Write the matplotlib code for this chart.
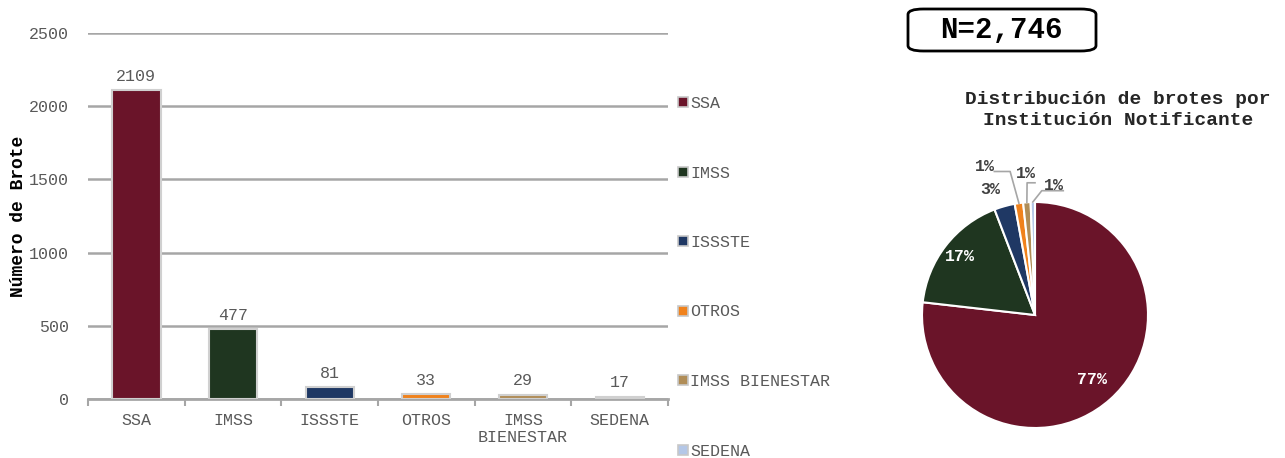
import numpy as np
import matplotlib.pyplot as plt
from matplotlib.lines import Line2D
from matplotlib.patches import FancyBboxPatch

plt.rcParams['font.family'] = ['Liberation Mono', 'DejaVu Sans Mono']

institutions = ['SSA', 'IMSS', 'ISSSTE', 'OTROS', 'IMSS BIENESTAR', 'SEDENA']
tick_labels = ['SSA', 'IMSS', 'ISSSTE', 'OTROS', 'IMSS\nBIENESTAR', 'SEDENA']
outbreaks = [2109, 477, 81, 33, 29, 17]
colors = ['#6A1429', '#1F3620', '#1F3864', '#F0821C', '#B08D57', '#B4C7E7']
total_label = 'N=2,746'

W, H = 1285, 458
fig = plt.figure(figsize=(W / 100, H / 100), dpi=100)

def px_axes(x0, y0, x1, y1):
    # pixel box (top-left origin) -> figure axes
    return fig.add_axes([x0 / W, 1 - y1 / H, (x1 - x0) / W, (y1 - y0) / H])

grey = '#595959'

# ---- bar chart ----
ax = px_axes(88, 33, 668, 399)
x = np.arange(len(outbreaks))
ax.bar(x, outbreaks, width=0.5, color=colors, edgecolor='#D0D0D0', linewidth=1.5, zorder=3)
for xi, v in zip(x, outbreaks):
    ax.text(xi, v + 45, str(v), ha='center', va='bottom', fontsize=12, color=grey)
ax.set_xlim(-0.5, len(outbreaks) - 0.5)
ax.set_ylim(0, 2500)
ax.set_yticks(np.arange(0, 2501, 500))
ax.yaxis.grid(True, color='#A6A6A6', linewidth=1.8, zorder=0)
ax.set_xticks(x)
ax.set_xticklabels(tick_labels, fontsize=12, color=grey)
ax.set_xticks(np.arange(-0.5, len(outbreaks)), minor=True)
ax.tick_params(axis='x', which='major', length=0, pad=10)
ax.tick_params(axis='x', which='minor', length=5, color='#A6A6A6', width=1.5)
ax.tick_params(axis='y', length=0, pad=14, labelsize=12, labelcolor=grey)
for s in ['top', 'right', 'left']:
    ax.spines[s].set_visible(False)
ax.spines['bottom'].set_color('#A6A6A6')
ax.spines['bottom'].set_linewidth(2)
ax.set_ylabel('Número de Brote', fontsize=13, fontweight='bold')
ax.yaxis.set_label_coords(-0.106, 0.5)

handles = [Line2D([], [], marker='s', linestyle='none', markersize=7,
                  markerfacecolor=c, markeredgecolor='#C8C8C8', markeredgewidth=1.2)
           for c in colors]
fig.legend(handles, institutions, loc='upper left', bbox_to_anchor=(678 / W, 1 - 96 / H),
           frameon=False, fontsize=12, labelspacing=3.27, handlelength=0.6,
           handletextpad=0.15, borderpad=0, borderaxespad=0, labelcolor=grey)

# ---- N box ----
fig.patches.append(FancyBboxPatch((908 / W, 1 - 51 / H), 188 / W, 42 / H,
                                  boxstyle='round,pad=0,rounding_size=0.012',
                                  transform=fig.transFigure, facecolor='white',
                                  edgecolor='black', linewidth=2))
fig.text(1001 / W, 1 - 30 / H, total_label, ha='center', va='center',
         fontsize=21, fontweight='bold')

fig.text(1118 / W, 1 - 110 / H, 'Distribución de brotes por\nInstitución Notificante',
         ha='center', va='center', fontsize=14, fontweight='bold', linespacing=1.35,
         color='#262626')

# ---- pie ----
r_px = 113
half = 130
pax = px_axes(1035 - half, 315 - half, 1035 + half, 315 + half)
wedges, _ = pax.pie(outbreaks, colors=colors, startangle=90, counterclock=False,
                    wedgeprops=dict(edgecolor='white', linewidth=1.5))
lim = half / r_px
pax.set_xlim(-lim, lim)
pax.set_ylim(-lim, lim)
pax.set_aspect('equal')

shares = np.array(outbreaks) / sum(outbreaks) * 100
pct = [f'{int(round(s)) if s >= 1 else 1}%' for s in shares]
mids = [np.deg2rad((w.theta1 + w.theta2) / 2) for w in wedges]

inside = {0: 0.76, 1: 0.84}
for i, rr in inside.items():
    pax.text(rr * np.cos(mids[i]), rr * np.sin(mids[i]), pct[i], ha='center', va='center',
             color='white', fontsize=12, fontweight='bold')
pax.text(1.45 * np.cos(mids[2]), 1.15 * np.sin(mids[2]), pct[2], ha='center', va='center',
         color='#404040', fontsize=12, fontweight='bold')

# leader-line offsets (label position, elbow) in radius units
leaders = {3: ((-0.44, 1.31), (-0.22, 1.27)),
           4: ((-0.08, 1.25), (-0.07, 1.17)),
           5: ((0.17, 1.15), (0.06, 1.1))}
for i, (lab, elbow) in leaders.items():
    tip = (np.cos(mids[i]) * 1.0, np.sin(mids[i]) * 1.0)
    pax.plot([tip[0], elbow[0], lab[0] + 0.08], [tip[1], elbow[1], elbow[1]],
             color='#A6A6A6', linewidth=1.2, clip_on=False)
    pax.text(lab[0], lab[1], pct[i], ha='center', va='center', color='#404040',
             fontsize=12, fontweight='bold')

fig.savefig('out.png', dpi=100)
